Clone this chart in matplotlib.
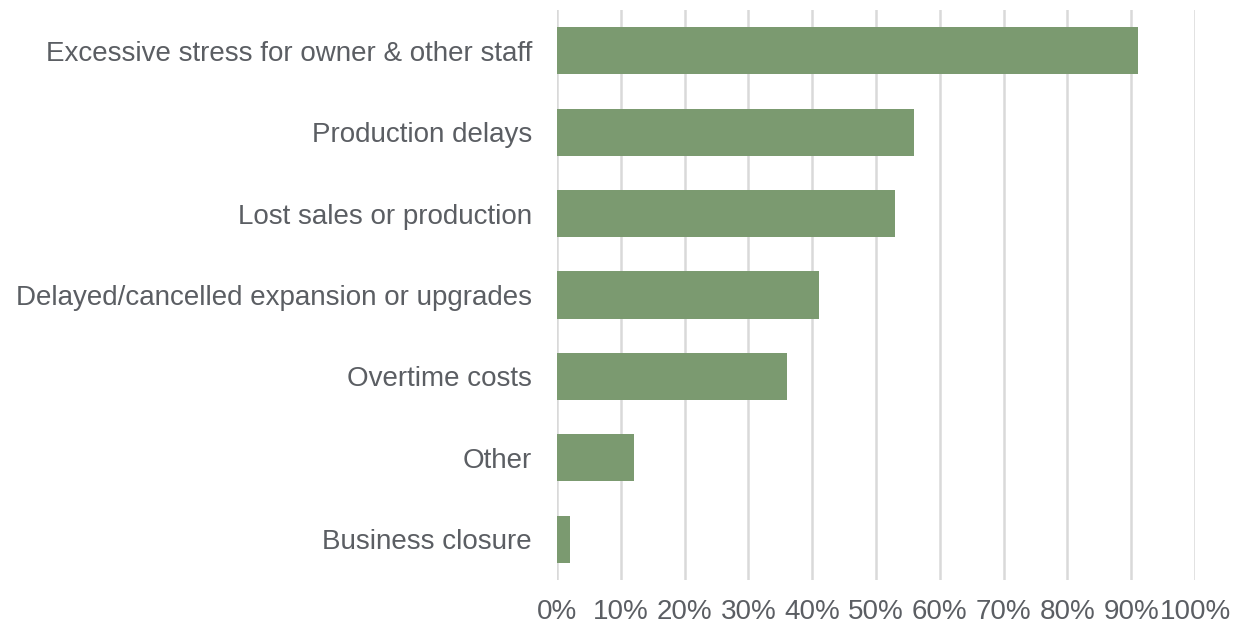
import matplotlib.pyplot as plt
from matplotlib.ticker import PercentFormatter

plt.rcParams['font.family'] = ['Liberation Sans', 'DejaVu Sans']

# data
categories = ['Excessive stress for owner & other staff', 'Production delays',
              'Lost sales or production', 'Delayed/cancelled expansion or upgrades',
              'Overtime costs', 'Other', 'Business closure']
values = [91, 56, 53, 41, 36, 12, 2]

text_color = '#5b5e63'
bar_color = '#7B9A70'

fig = plt.figure(figsize=(12.41, 6.29), dpi=100)
ax = fig.add_axes([557 / 1241, 49 / 629, 638 / 1241, 570 / 629])

ax.barh(categories, values, height=0.58, color=bar_color, zorder=2)
ax.set_xlim(0, 100)
ax.set_ylim(6.5, -0.5)
ax.set_xticks(range(0, 101, 10))
ax.xaxis.set_major_formatter(PercentFormatter(decimals=0))
ax.grid(axis='x', color='#d9d9d9', lw=1.8, zorder=0)
for s in ax.spines.values():
    s.set_visible(False)
ax.tick_params(axis='both', length=0, labelsize=20, colors=text_color)
ax.tick_params(axis='x', pad=14)
ax.tick_params(axis='y', pad=18)

plt.savefig('out.png', dpi=100)
